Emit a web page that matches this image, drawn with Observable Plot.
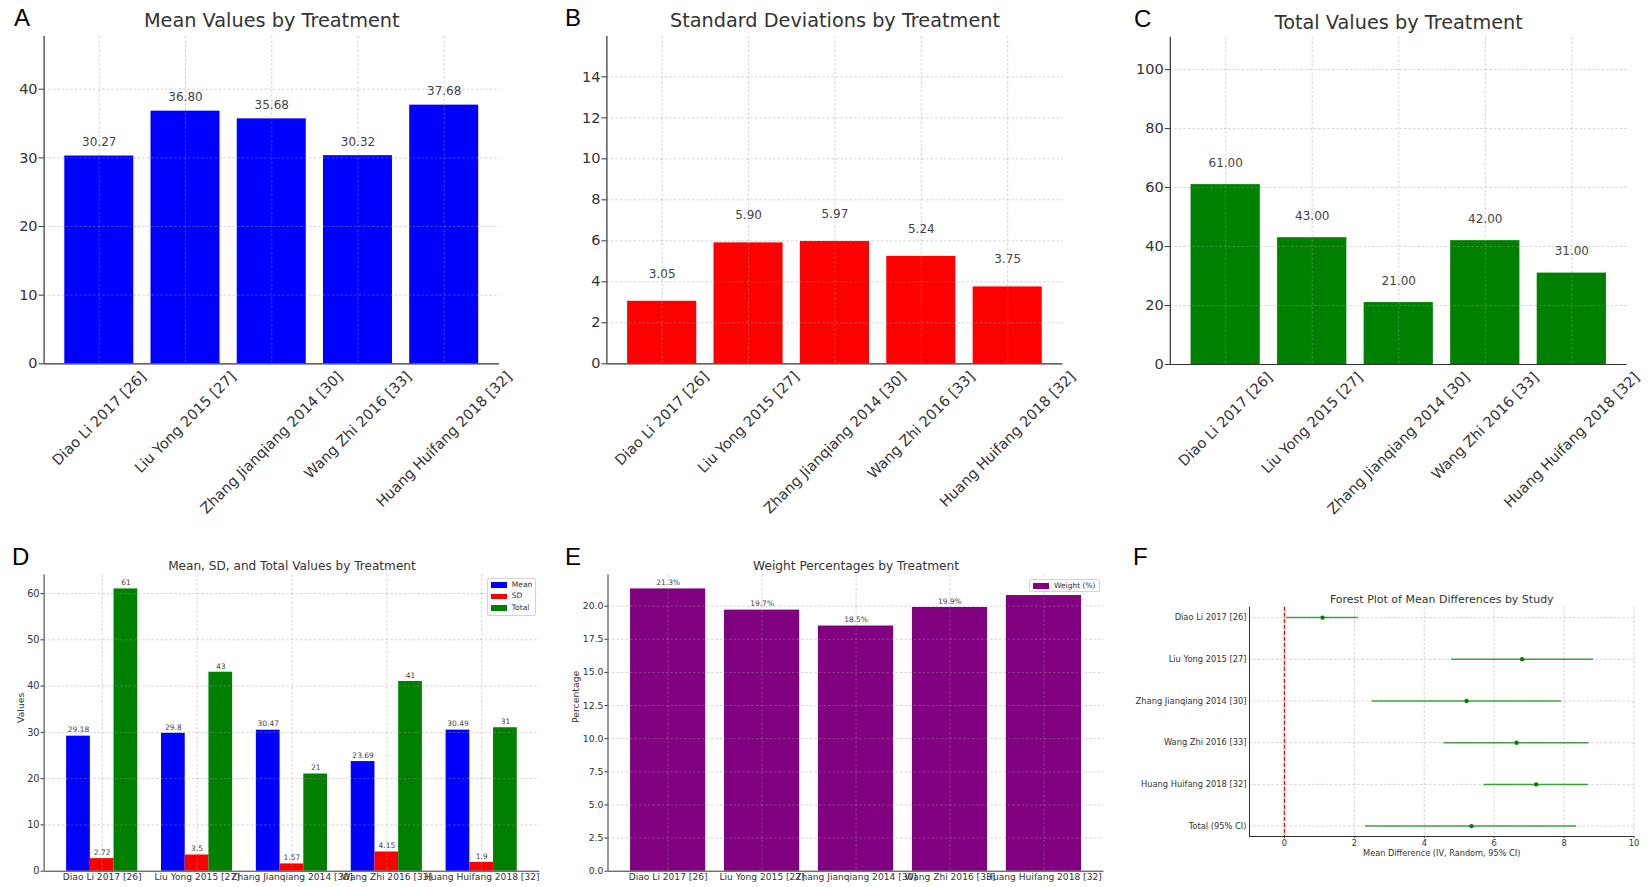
<!DOCTYPE html>
<html><head><meta charset="utf-8">
<script src="https://cdn.jsdelivr.net/npm/d3@7"></script>
<script src="https://cdn.jsdelivr.net/npm/@observablehq/plot@0.6"></script>
<style>
html,body{margin:0;padding:0;background:#fff;}
#fig{position:relative;width:1648px;height:887px;overflow:hidden;font-family:"DejaVu Sans",sans-serif;background:#fff;}
.panel{position:absolute;}
.letter{position:absolute;font-family:"Liberation Sans",Arial,sans-serif;font-size:24px;line-height:24px;color:#000;}
.legend{position:absolute;background:rgba(255,255,255,0.8);border:1px solid #d4d4d4;border-radius:2px;box-sizing:border-box;font-size:7.5px;color:#333;font-family:"DejaVu Sans",sans-serif;}
.legend .sw{position:absolute;width:16px;height:5.7px;}
.legend .lb{position:absolute;line-height:8px;white-space:nowrap;}
</style></head><body><div id="fig"></div>
<script>
// ---- data ----
const studies = ["Diao Li 2017 [26]", "Liu Yong 2015 [27]", "Zhang Jianqiang 2014 [30]", "Wang Zhi 2016 [33]", "Huang Huifang 2018 [32]"];
const meanA = [30.27, 36.80, 35.68, 30.32, 37.68];
const sdB = [3.05, 5.90, 5.97, 5.24, 3.75];
const totalC = [61, 43, 21, 42, 31];
const meanD = [29.18, 29.8, 30.47, 23.69, 30.49];
const sdD = [2.72, 3.5, 1.57, 4.15, 1.9];
const totalD = [61, 43, 21, 41, 31];
const weightE = [21.3, 19.7, 18.5, 19.9, 20.8];
const forestLabels = ["Diao Li 2017 [26]", "Liu Yong 2015 [27]", "Zhang Jianqiang 2014 [30]", "Wang Zhi 2016 [33]", "Huang Huifang 2018 [32]", "Total (95% CI)"];
const forestMD = [1.09, 6.80, 5.21, 6.64, 7.20, 5.35];
const forestLow = [0.06, 4.78, 2.51, 4.57, 5.71, 2.32];
const forestHigh = [2.11, 8.84, 7.92, 8.71, 8.69, 8.36];

const fig = document.getElementById("fig");
const ctx = document.createElement("canvas").getContext("2d");
function textW(s, size) { ctx.font = size + 'px "DejaVu Sans"'; return ctx.measureText(s).width; }
const baseStyle = {fontFamily: '"DejaVu Sans", sans-serif', fontSize: "10px", color: "#333", background: "transparent", overflow: "visible"};
const gridStyle = {stroke: "#9a9a9a", strokeOpacity: 0.55, strokeDasharray: "2.5,2", strokeWidth: 0.8};

function place(node, left, top) {
  const d = document.createElement("div");
  d.className = "panel"; d.style.left = left + "px"; d.style.top = top + "px";
  d.appendChild(node); fig.appendChild(d);
}
function letter(t, left, top) {
  const d = document.createElement("div");
  d.className = "letter"; d.textContent = t; d.style.left = left + "px"; d.style.top = top + "px";
  fig.appendChild(d);
}
function legend(items, left, top, w, h, rowH) {
  const d = document.createElement("div");
  d.className = "legend";
  Object.assign(d.style, {left: left + "px", top: top + "px", width: w + "px", height: h + "px"});
  items.forEach((it, k) => {
    const sw = document.createElement("div");
    sw.className = "sw"; sw.style.background = it.color; sw.style.left = "3px"; sw.style.top = (6.6 + k * rowH - 3.3) + "px";
    const lb = document.createElement("div");
    lb.className = "lb"; lb.textContent = it.name; lb.style.left = "24px"; lb.style.top = (6.6 + k * rowH - 4.5) + "px";
    d.appendChild(sw); d.appendChild(lb);
  });
  fig.appendChild(d);
}

// ---- top row panels ----
function topPanel({values, color, yMax, yTicks, offset, title, left, width, mL, mR, mT, mB, titleDy}) {
  const H = 530;
  const idx = values.map((v, i) => i);
  const data = values.map((v, i) => ({i, v}));
  const xDom = [-0.64, 4.64];
  const tf = 14.5;
  const labelMarks = studies.map((s, i) => Plot.text([i], {
    x: d => d, frameAnchor: "bottom", text: () => s, rotate: -45,
    textAnchor: "middle", lineAnchor: "middle",
    dy: 5.6 + (textW(s, tf) + 13.6) * Math.SQRT1_2 / 2, fontSize: tf, fill: "#333"
  }));
  const chart = Plot.plot({
    width, height: H, marginLeft: mL, marginRight: mR, marginTop: mT, marginBottom: mB,
    style: baseStyle,
    x: {domain: xDom, axis: null},
    y: {domain: [0, yMax]},
    marks: [
      Plot.rect(data, {x1: d => d.i - 0.4, x2: d => d.i + 0.4, y1: 0, y2: "v", fill: color}),
      Plot.ruleY(yTicks.filter(t => t > 0), gridStyle),
      Plot.ruleX(idx, gridStyle),
      Plot.ruleX([xDom[0]], {stroke: "#333", strokeWidth: 1.2}),
      Plot.ruleY([0], {stroke: "#333", strokeWidth: 1.2}),
      Plot.axisY({ticks: yTicks, tickSize: 5, tickPadding: 1.5, fontSize: tf, label: null, fill: "#333", stroke: "#333"}),
      Plot.text(data, {x: "i", y: d => d.v + offset, text: d => d.v.toFixed(2), lineAnchor: "bottom", dy: -3, fontSize: 12, fill: "#444"}),
      Plot.text([title], {frameAnchor: "top", text: d => d, dy: titleDy, lineAnchor: "middle", fontSize: 19.3, fill: "#333"}),
      ...labelMarks
    ]
  });
  place(chart, left, 0);
}

topPanel({values: meanA, color: "#0000ff", yMax: 47.68, yTicks: [0, 10, 20, 30, 40], offset: 1,
  title: "Mean Values by Treatment", left: 0, width: 560, mL: 43.6, mR: 61.1, mT: 36, mB: 166.7, titleDy: -15.3});
topPanel({values: sdB, color: "#ff0000", yMax: 15.97, yTicks: [0, 2, 4, 6, 8, 10, 12, 14], offset: 1,
  title: "Standard Deviations by Treatment", left: 560, width: 560, mL: 46.4, mR: 57.5, mT: 36, mB: 166.7, titleDy: -15.3});
topPanel({values: totalC, color: "#008000", yMax: 111, yTicks: [0, 20, 40, 60, 80, 100], offset: 5,
  title: "Total Values by Treatment", left: 1120, width: 528, mL: 49.8, mR: 21.3, mT: 36.7, mB: 166, titleDy: -14.7});

// ---- panel D ----
{
  const series = [
    {name: "Mean", vals: meanD, color: "#0000ff", off: -0.25},
    {name: "SD", vals: sdD, color: "#ff0000", off: 0},
    {name: "Total", vals: totalD, color: "#008000", off: 0.25}
  ];
  const data = series.flatMap(s => s.vals.map((v, i) => ({i, v, x: i + s.off, color: s.color})));
  const idx = [0, 1, 2, 3, 4];
  const xDom = [-0.6125, 4.6125];
  const yTicks = [0, 10, 20, 30, 40, 50, 60];
  const chart = Plot.plot({
    width: 560, height: 357, marginLeft: 43.6, marginRight: 20.7, marginTop: 44.3, marginBottom: 16.3,
    style: baseStyle,
    x: {domain: xDom},
    y: {domain: [0, 64.05]},
    marks: [
      Plot.rect(data, {x1: d => d.x - 0.125, x2: d => d.x + 0.125, y1: 0, y2: "v", fill: d => d.color}),
      Plot.ruleY(yTicks.filter(t => t > 0), gridStyle),
      Plot.ruleX(idx, gridStyle),
      Plot.ruleX([xDom[0]], {stroke: "#333", strokeWidth: 1}),
      Plot.ruleY([0], {stroke: "#333", strokeWidth: 1}),
      Plot.axisY({ticks: yTicks, tickSize: 3, tickPadding: 1.5, fontSize: 9.8, label: null, fill: "#333", stroke: "#333"}),
      Plot.axisX({ticks: idx, tickFormat: i => studies[i], tickSize: 0, tickPadding: 2.5, fontSize: 9.1, label: null, fill: "#333"}),
      Plot.text(["Values"], {frameAnchor: "left", text: d => d, rotate: -90, dx: -23.2, fontSize: 9.3, fill: "#333", lineAnchor: "middle"}),
      Plot.text(data, {x: "x", y: "v", text: d => String(d.v), lineAnchor: "bottom", dy: -3.7, fontSize: 7.5, fill: "#444"}),
      Plot.text(["Mean, SD, and Total Values by Treatment"], {frameAnchor: "top", text: d => d, dy: -8.6, lineAnchor: "middle", fontSize: 12.1, fill: "#333"})
    ]
  });
  place(chart, 0, 530);
  legend(series.map(s => ({name: s.name, color: s.color})), 486.8, 577.7, 48.9, 38.3, 11.7);
}

// ---- panel E ----
{
  const data = weightE.map((v, i) => ({i, v}));
  const idx = [0, 1, 2, 3, 4];
  const xDom = [-0.64, 4.64];
  const yTicks = [0, 2.5, 5, 7.5, 10, 12.5, 15, 17.5, 20];
  const chart = Plot.plot({
    width: 560, height: 357, marginLeft: 47.5, marginRight: 16.4, marginTop: 44.3, marginBottom: 16.3,
    style: baseStyle,
    x: {domain: xDom},
    y: {domain: [0, 22.365]},
    marks: [
      Plot.rect(data, {x1: d => d.i - 0.4, x2: d => d.i + 0.4, y1: 0, y2: "v", fill: "#800080"}),
      Plot.ruleY(yTicks.filter(t => t > 0), gridStyle),
      Plot.ruleX(idx, gridStyle),
      Plot.ruleX([xDom[0]], {stroke: "#333", strokeWidth: 1}),
      Plot.ruleY([0], {stroke: "#333", strokeWidth: 1}),
      Plot.axisY({ticks: yTicks, tickFormat: d => d.toFixed(1), tickSize: 3, tickPadding: 1.5, fontSize: 9.3, label: null, fill: "#333", stroke: "#333"}),
      Plot.axisX({ticks: idx, tickFormat: i => studies[i], tickSize: 0, tickPadding: 2.5, fontSize: 9.1, label: null, fill: "#333"}),
      Plot.text(["Percentage"], {frameAnchor: "left", text: d => d, rotate: -90, dx: -31.5, fontSize: 9.3, fill: "#333", lineAnchor: "middle"}),
      Plot.text(data, {x: "i", y: "v", text: d => d.v.toFixed(1) + "%", lineAnchor: "bottom", dy: -3.7, fontSize: 7.5, fill: "#444"}),
      Plot.text(["Weight Percentages by Treatment"], {frameAnchor: "top", text: d => d, dy: -8.6, lineAnchor: "middle", fontSize: 12.2, fill: "#333"})
    ]
  });
  place(chart, 560, 530);
  legend([{name: "Weight (%)", color: "#800080"}], 1029, 579, 71, 12.7, 11.7);
}

// ---- panel F ----
{
  const data = forestLabels.map((s, i) => ({i, md: forestMD[i], lo: forestLow[i], hi: forestHigh[i]}));
  const idx = [0, 1, 2, 3, 4, 5];
  const xTicks = [0, 2, 4, 6, 8, 10];
  const chart = Plot.plot({
    width: 528, height: 357, marginLeft: 129, marginRight: 14.5, marginTop: 76.7, marginBottom: 51,
    style: baseStyle,
    x: {domain: [-1, 10]},
    y: {domain: [5.25, -0.25]},
    marks: [
      Plot.ruleX(xTicks, gridStyle),
      Plot.ruleY(idx, gridStyle),
      Plot.ruleX([-1], {stroke: "#333", strokeWidth: 1}),
      Plot.ruleY([5.25], {stroke: "#333", strokeWidth: 1}),
      Plot.ruleX([0], {stroke: "#ff0000", strokeDasharray: "4,2", strokeWidth: 1.3}),
      Plot.ruleY(data, {y: "i", x1: "lo", x2: "hi", stroke: "#008000", strokeOpacity: 0.72, strokeWidth: 1.5}),
      Plot.dot(data, {x: "md", y: "i", r: 2.2, fill: "#008000", stroke: "none"}),
      Plot.axisY({ticks: idx, tickFormat: i => forestLabels[i], tickSize: 0, tickPadding: 3, fontSize: 8.3, label: null, fill: "#333"}),
      Plot.axisX({ticks: xTicks, tickSize: 2, tickPadding: 1.5, fontSize: 8.3, label: null, fill: "#333", stroke: "#333"}),
      Plot.text(["Mean Difference (IV, Random, 95% CI)"], {frameAnchor: "bottom", text: d => d, dy: 17.3, lineAnchor: "middle", fontSize: 8.2, fill: "#333"}),
      Plot.text(["Forest Plot of Mean Differences by Study"], {frameAnchor: "top", text: d => d, dy: -7.7, lineAnchor: "middle", fontSize: 11, fill: "#333"})
    ]
  });
  place(chart, 1120, 530);
}

letter("A", 14, 6);
letter("B", 565, 6);
letter("C", 1134, 7);
letter("D", 12, 545);
letter("E", 565, 545);
letter("F", 1133, 545);
</script>
</body></html>
